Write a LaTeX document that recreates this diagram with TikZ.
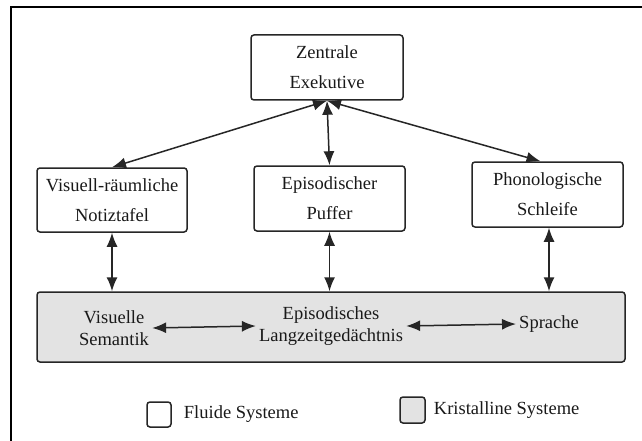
\documentclass[tikz,border=0pt]{standalone}
\usepackage{fontspec}
\setmainfont{Liberation Serif}
\usetikzlibrary{arrows.meta,positioning}

\tikzset{
  sysbox/.style={draw=black!85, line width=1.5pt, rounded corners=3pt, align=center,
    text=black!90, font=\fontsize{18.5}{30}\selectfont},
  fluid/.style={sysbox, fill=white},
  kristall/.style={sysbox, fill=gray!22},
  ltmtext/.style={align=center, text=black!90, inner sep=3pt, font=\fontsize{18.5}{22}\selectfont},
  link/.style={line width=1.5pt, draw=black!85, {Latex[length=14pt,width=11pt]}-{Latex[length=14pt,width=11pt]}}
}

\begin{document}
\begin{tikzpicture}[x=1pt,y=-1pt]
\useasboundingbox (0,0) rectangle (642,441);
\fill[white] (0,0) rectangle (642,441);
\draw[line width=1.5pt] (11,441) -- (11,7) -- (642,7);

% fluide Systeme
\node[fluid, minimum width=152, minimum height=65] (zentrale) at (327,67.5) {Zentrale\\Exekutive};
\node[fluid, minimum width=150, minimum height=64] (notiz) at (112,200) {Visuell-räumliche\\Notiztafel};
\node[fluid, minimum width=151, minimum height=65] (puffer) at (329.5,198.5) {Episodischer\\Puffer};
\node[fluid, minimum width=151, minimum height=65] (schleife) at (547.5,194.5) {Phonologische\\Schleife};

% kristalline Systeme
\node[kristall, minimum width=588, minimum height=70] (ltm) at (331,327) {};
\node[ltmtext] (vissem) at (114,328) {Visuelle\\Semantik};
\node[ltmtext] (epis) at (331,326) {Episodisches\\Langzeitgedächtnis};
\node[ltmtext] (sprache) at (549,324) {Sprache};

\draw[link] (zentrale.south) -- (notiz.north);
\draw[link] (zentrale.south) -- (puffer.north);
\draw[link] (zentrale.south) -- ([xshift=-7]schleife.north);

\draw[link] (notiz.south) -- (notiz.south |- ltm.north);
\draw[link] (puffer.south) -- (puffer.south |- ltm.north);
\draw[link] ([xshift=1.5]schleife.south) -- ([xshift=1.5]schleife.south |- ltm.north);

\draw[link] (vissem.east) -- (epis.west);
\draw[link] (epis.east) -- (sprache.west);

% Legende
\node[fluid, minimum width=24, minimum height=25, inner sep=0pt] (legfluid) at (159,414.5) {};
\node[ltmtext, right=9pt of legfluid] (legfluidtext) {Fluide Systeme};
\node[kristall, minimum width=25, minimum height=26, inner sep=0pt] (legkristall) at (412.5,410) {};
\node[ltmtext, right=5pt of legkristall] (legkristalltext) {Kristalline Systeme};
\end{tikzpicture}
\end{document}
